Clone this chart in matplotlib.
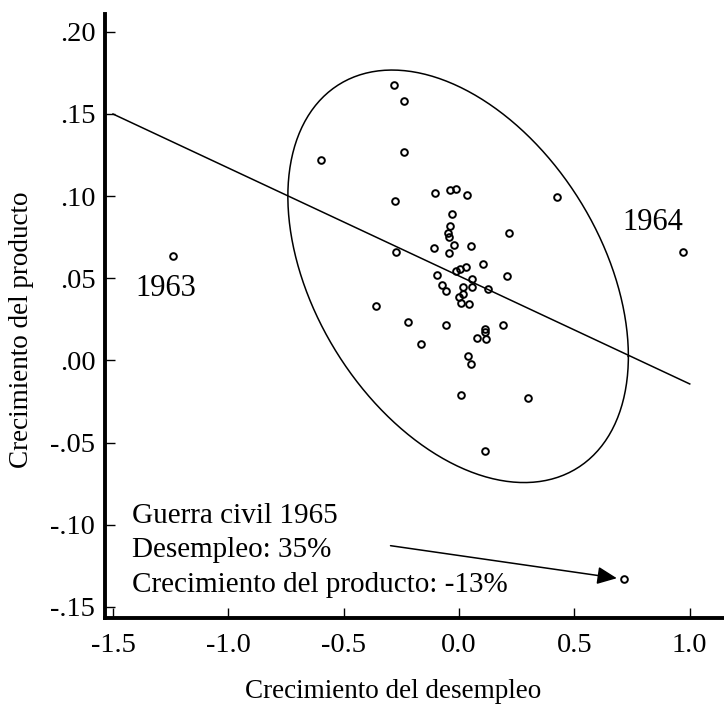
import numpy as np
import matplotlib.pyplot as plt
from matplotlib.transforms import Bbox, TransformedBbox

plt.rcParams['font.family'] = 'serif'
plt.rcParams['font.serif'] = ['Liberation Serif', 'DejaVu Serif']

# crecimiento del desempleo / crecimiento del producto
desempleo = [-0.284, -0.240, -0.237, -0.597, -0.277, -0.273, -0.103, -0.038,
             -0.012, 0.033, -0.030, -0.041, -0.046, -0.045, -0.022, 0.052,
             -0.109, -0.045, 0.105, -0.014, 0.006, 0.029, -0.096, 0.215,
             0.426, 0.206, 0.056, -0.074, -0.058, 0.017, 0.056, 0.127,
             0.017, 0.001, 0.009, 0.045, -0.362, -0.221, -0.058, 0.189,
             0.114, 0.114, 0.076, 0.115, -0.163, 0.037, 0.052, 0.009,
             0.299, 0.111, -1.238, 0.972, 0.717]
producto = [0.1676, 0.1580, 0.1270, 0.1220, 0.0970, 0.0658, 0.1021, 0.1039,
            0.1043, 0.1007, 0.0891, 0.0821, 0.0774, 0.0754, 0.0704, 0.0695,
            0.0684, 0.0656, 0.0589, 0.0543, 0.0555, 0.0570, 0.0518, 0.0774,
            0.0995, 0.0512, 0.0494, 0.0459, 0.0423, 0.0447, 0.0447, 0.0435,
            0.0406, 0.0386, 0.0350, 0.0345, 0.0333, 0.0234, 0.0218, 0.0218,
            0.0190, 0.0175, 0.0135, 0.0129, 0.0100, 0.0029, -0.0021, -0.0212,
            -0.0230, -0.0550, 0.0636, 0.0660, -0.1331]

# recta de regresion
fit_intercept = 0.0514
fit_slope = -0.0657
fit_range = [-1.5, 1.0]

# elipse (centro, desviaciones, correlacion)
ell_center = (-0.004, 0.0512)
ell_sx = 0.738
ell_sy = 0.1255
ell_rho = -0.388

xticks = [-1.5, -1.0, -0.5, 0.0, 0.5, 1.0]
xticklabels = ['-1.5', '-1.0', '-0.5', '0.0', '0.5', '1.0']
yticks = [0.20, 0.15, 0.10, 0.05, 0.00, -0.05, -0.10, -0.15]
yticklabels = ['.20', '.15', '.10', '.05', '.00', '-.05', '-.10', '-.15']

war_lines = ['Guerra civil 1965', 'Desempleo: 35%', 'Crecimiento del producto: -13%']

fig = plt.figure(figsize=(7.24, 7.07), dpi=100)
ax = fig.add_axes([0.14503, 0.1259, 1 - 0.14503, 0.9802 - 0.1259])

ax.plot(desempleo, producto, linestyle='none', marker='o', ms=4.8,
        mfc='none', mec='black', mew=1.4)

xf = np.array(fit_range)
ax.plot(xf, fit_intercept + fit_slope * xf, color='black', lw=1.1)

t = np.linspace(0, 2 * np.pi, 300)
ex = ell_center[0] + ell_sx * np.cos(t)
ey = ell_center[1] + ell_sy * (ell_rho * np.cos(t) + np.sqrt(1 - ell_rho ** 2) * np.sin(t))
ax.plot(ex, ey, color='black', lw=1.1)

ax.text(-1.272, 0.0392, '1963', fontsize=22, ha='center', va='baseline')
ax.text(0.840, 0.0794, '1964', fontsize=22, ha='center', va='baseline')

for i, line in enumerate(war_lines):
    ax.text(-1.416, -0.0988 - i * 0.0209, line, fontsize=21, ha='left', va='baseline')

ax.annotate('', xy=(0.684, -0.1325), xytext=(-0.297, -0.1127),
            arrowprops=dict(arrowstyle='-|>,head_length=0.6,head_width=0.27',
                            color='black', lw=1.1, shrinkA=0, shrinkB=0,
                            mutation_scale=20))

ax.set_xlim(-1.5346, 1.1485)
ax.set_ylim(-0.1567, 0.2108)
ax.set_xticks(xticks)
ax.set_xticklabels(xticklabels)
ax.set_yticks(yticks)
ax.set_yticklabels(yticklabels)
ax.tick_params(direction='in', length=7, width=1, labelsize=20.5)
ax.tick_params(axis='y', pad=7)
ax.tick_params(axis='x', pad=11)
for s in ['top', 'right']:
    ax.spines[s].set_visible(False)
for s in ['left', 'bottom']:
    ax.spines[s].set_linewidth(2.8)

# el "1.0" aparece recortado en el original
clip = TransformedBbox(Bbox([[0, 0], [707 / 724, 1]]), fig.transFigure)
last = ax.get_xticklabels()[-1]
last.set_clip_box(clip)
last.set_clip_on(True)

fig.text(393 / 724, 1 - 698 / 707, 'Crecimiento del desempleo', fontsize=19.5,
         ha='center', va='baseline')
fig.text(22 / 724, 1 - 330 / 707, 'Crecimiento del producto', fontsize=19.5,
         ha='center', va='center', rotation=90)

plt.savefig('out.png', dpi=100)
